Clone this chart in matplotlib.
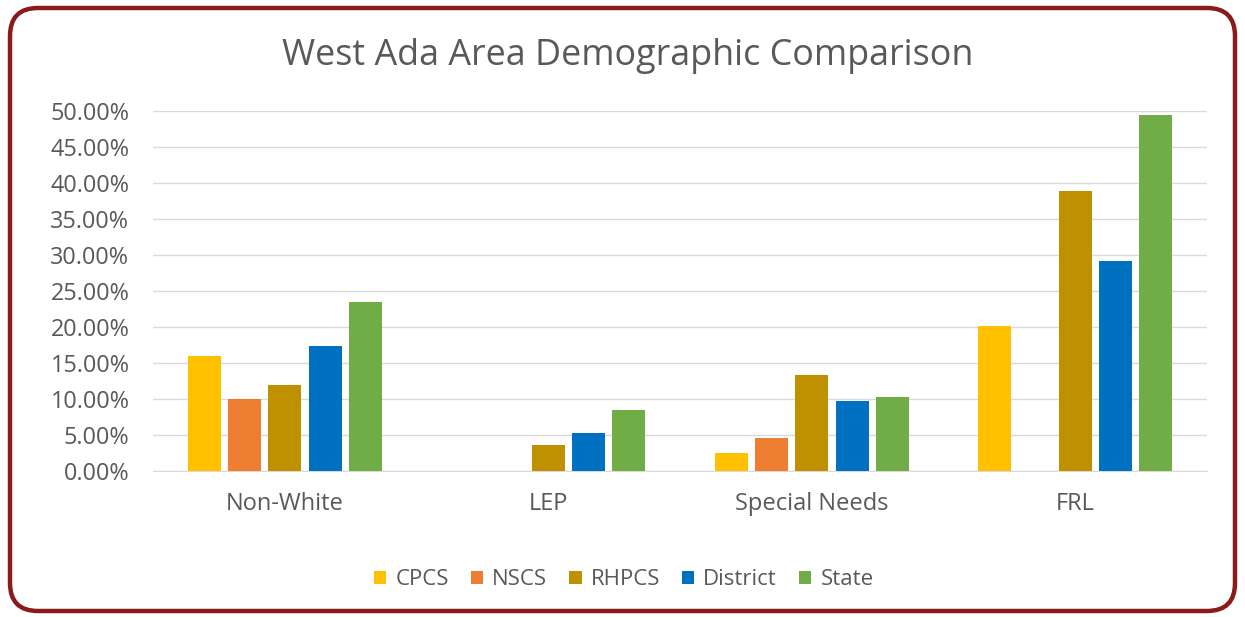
import matplotlib
matplotlib.use("Agg")
import matplotlib.pyplot as plt
import numpy as np
from matplotlib.patches import FancyBboxPatch
from matplotlib.transforms import IdentityTransform

plt.rcParams['font.family'] = ['Open Sans', 'DejaVu Sans']

categories = ["Non-White", "LEP", "Special Needs", "FRL"]
series = ["CPCS", "NSCS", "RHPCS", "District", "State"]
cpcs = [0.160, 0.0, 0.025, 0.201]
nscs = [0.100, 0.0, 0.046, 0.0]
rhpcs = [0.120, 0.036, 0.133, 0.389]
district = [0.173, 0.053, 0.097, 0.291]
state = [0.235, 0.085, 0.103, 0.494]
values = [cpcs, nscs, rhpcs, district, state]
colors = ["#FFC000", "#ED7D31", "#BF9000", "#0070C0", "#70AD47"]

fig = plt.figure(figsize=(12.45, 6.17), dpi=100)
ax = fig.add_axes([0.1229, 0.2366, 0.8466, 0.5835])

x = np.arange(len(categories))
step = 0.153
width = 0.125
for i, (name, vals, col) in enumerate(zip(series, values, colors)):
    ax.bar(x + (i - 2) * step, vals, width, color=col, label=name, zorder=3)

ax.set_xlim(-0.5, 3.5)
ax.set_ylim(0, 0.5)
ax.set_yticks(np.arange(0, 0.501, 0.05))
ax.yaxis.set_major_formatter(matplotlib.ticker.FuncFormatter(lambda v, p: f"{v*100:.2f}%"))
ax.set_xticks(x)
ax.set_xticklabels(categories)
ax.grid(axis='y', color='#D9D9D9', linewidth=1, zorder=0)
for s in ['top', 'right', 'left']:
    ax.spines[s].set_visible(False)
ax.spines['bottom'].set_color('#D9D9D9')
ax.tick_params(length=0, colors='#595959')
ax.tick_params(axis='y', labelsize=16.8, pad=17)
ax.tick_params(axis='x', labelsize=17, pad=15)

fig.text(0.504, 0.91, "West Ada Area Demographic Comparison", ha='center', va='center',
         fontsize=25.8, color='#595959')

fig.legend(loc='center', bbox_to_anchor=(0.501, 0.06), ncol=5, frameon=False,
           fontsize=16, handlelength=0.55, handleheight=0.55, handletextpad=0.4,
           columnspacing=1.0, labelcolor='#595959')

border = FancyBboxPatch((10, 6), 1225, 603, boxstyle="round,pad=0,rounding_size=28",
                        transform=IdentityTransform(), fill=False,
                        edgecolor='#8B1A1A', linewidth=3.2)
fig.patches.append(border)

fig.savefig("out.png", dpi=100)
